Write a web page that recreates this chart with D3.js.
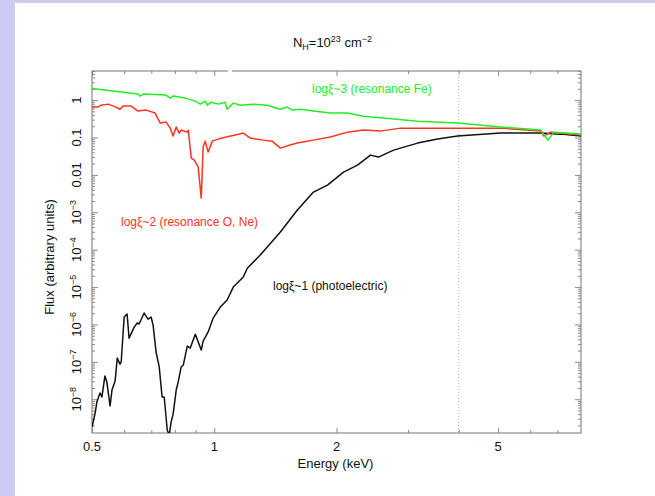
<!DOCTYPE html>
<html><head><meta charset="utf-8">
<script src="https://cdn.jsdelivr.net/npm/d3@7"></script>
<style>
body{margin:0;background:#fff;}
svg{display:block;font-family:"Liberation Sans",Arial,Helvetica,sans-serif;}
</style></head>
<body>
<script>
// ---- data ----
const xDomain = [0.5, 8.0];
const yDomain = [1.25e-9, 6];
const xTickMajor = [0.5, 1, 2, 5];
const xTickMinor = [0.6, 0.7, 0.8, 0.9, 3, 4, 6, 7];
const yTickValues = [1, 0.1, 0.01, 1e-3, 1e-4, 1e-5, 1e-6, 1e-7, 1e-8];
const yTickLabels = ["1", "0.1", "0.01", "10|−3", "10|−4", "10|−5", "10|−6", "10|−7", "10|−8"];
const markerEnergy = 4;

const greenE = [0.500,0.590,0.649,0.656,0.670,0.761,0.779,0.792,0.848,0.898,0.924,0.950,0.961,0.983,1.023,1.064,1.076,1.114,1.159,1.248,1.351,1.455,1.514,1.557,1.631,1.755,1.932,2.128,2.331,2.61,3.168,3.974,5.07,6.37,6.63,6.86,8.0];
const greenF = [2.03,1.64,1.45,1.28,1.45,1.36,1.13,1.28,1.13,0.94,0.78,0.94,0.73,0.88,0.78,0.88,0.57,0.83,0.73,0.78,0.73,0.57,0.65,0.54,0.57,0.51,0.45,0.45,0.37,0.33,0.27,0.243,0.19,0.158,0.085,0.139,0.123];

const redE = [0.500,0.517,0.526,0.548,0.573,0.586,0.596,0.624,0.649,0.680,0.715,0.736,0.761,0.779,0.792,0.806,0.820,0.829,0.858,0.863,0.878,0.893,0.913,0.929,0.939,0.950,0.966,0.989,1.023,1.070,1.12,1.179,1.227,1.321,1.39,1.455,1.53,1.602,1.68,1.755,1.932,2.128,2.331,2.567,2.876,3.82,5.07,6.37,6.48,6.74,8.0];
const redF = [0.65,0.65,0.73,0.78,0.65,0.57,0.69,0.69,0.51,0.54,0.45,0.243,0.258,0.178,0.109,0.19,0.131,0.158,0.139,0.158,0.0281,0.0249,0.0162,0.0024,0.0554,0.080,0.0407,0.080,0.0906,0.1025,0.115,0.131,0.0964,0.085,0.079,0.052,0.062,0.0708,0.078,0.085,0.1025,0.139,0.158,0.148,0.178,0.178,0.178,0.148,0.109,0.139,0.116];

const blackE = [0.500,0.509,0.514,0.523,0.529,0.538,0.544,0.554,0.560,0.570,0.577,0.586,0.590,0.600,0.610,0.617,0.635,0.646,0.653,0.672,0.687,0.699,0.707,0.719,0.732,0.744,0.753,0.766,0.775,0.783,0.792,0.806,0.815,0.829,0.839,0.858,0.873,0.898,0.929,0.939,0.966,0.994,1.035,1.076,1.114,1.179,1.206,1.298,1.455,1.602,1.755,1.900,2.081,2.253,2.425,2.538,2.764,3.168,3.548,3.974,5.07,6.37,7.13,8.0];
const blackF = [1.81e-9,4.27e-9,8.4e-9,1.47e-8,1.15e-8,4.2e-8,2.88e-8,6.6e-9,1.76e-8,3.07e-8,1.26e-7,8.7e-8,9.9e-8,1.58e-6,1.90e-6,4.3e-7,8.5e-7,1.09e-6,1.03e-6,2.02e-6,1.39e-6,1.58e-6,9.6e-7,1.83e-7,7.3e-8,1.15e-8,1.15e-8,1.5e-9,1.1e-9,2.45e-9,4.0e-9,1.76e-8,2.88e-8,7.3e-8,8.2e-8,2.64e-7,2.34e-7,5.5e-7,2.07e-7,3.6e-7,6.3e-7,1.48e-6,2.92e-6,4.5e-6,1.0e-5,1.85e-5,3.2e-5,7.2e-5,2.96e-4,1.15e-3,3.47e-3,5.3e-3,0.0119,0.0183,0.0338,0.0299,0.046,0.0708,0.0906,0.109,0.131,0.131,0.123,0.109];

const seriesNames = ["logξ~3 (resonance Fe)", "logξ~2 (resonance O, Ne)", "logξ~1 (photoelectric)"];
const seriesColors = ["#22ee22", "#ff3322", "#111111"];

// ---- layout ----
const W = 655, H = 496;
const m = {left: 92, top: 71, right: 581, bottom: 433};

const svg = d3.select("body").append("svg").attr("width", W).attr("height", H);
svg.append("rect").attr("width", W).attr("height", H).attr("fill", "#fff");
svg.append("rect").attr("x", 0).attr("y", 0).attr("width", W).attr("height", 3).attr("fill", "#ccccf2");
svg.append("rect").attr("x", 0).attr("y", 0).attr("width", 15).attr("height", H).attr("fill", "#ccccf2");

const x = d3.scaleLog().domain(xDomain).range([m.left, m.right]);
const y = d3.scaleLog().domain(yDomain).range([m.bottom, m.top]);

svg.append("clipPath").attr("id", "clip").append("rect")
  .attr("x", m.left).attr("y", m.top).attr("width", m.right - m.left).attr("height", m.bottom - m.top);

const axisColor = "#8a8a8a";

// dotted line at 4 keV
svg.append("line").attr("x1", x(markerEnergy)).attr("x2", x(markerEnergy))
  .attr("y1", m.top).attr("y2", m.bottom)
  .attr("stroke", "#aaa").attr("stroke-width", 1).attr("stroke-dasharray", "1,2");

// axes (ticks inward)
function styleAxis(g){
  g.select(".domain").remove();
  g.selectAll("line").attr("stroke", axisColor);
  g.selectAll("text").remove();
}
const xMajorLen = 5, xMinorLen = 3;
svg.append("g").attr("transform", `translate(0,${m.bottom})`)
  .call(d3.axisTop(x).tickValues(xTickMajor).tickSize(xMajorLen)).call(styleAxis);
svg.append("g").attr("transform", `translate(0,${m.bottom})`)
  .call(d3.axisTop(x).tickValues(xTickMinor).tickSize(xMinorLen)).call(styleAxis);
svg.append("g").attr("transform", `translate(0,${m.top})`)
  .call(d3.axisBottom(x).tickValues(xTickMajor).tickSize(xMajorLen)).call(styleAxis);
svg.append("g").attr("transform", `translate(0,${m.top})`)
  .call(d3.axisBottom(x).tickValues(xTickMinor).tickSize(xMinorLen)).call(styleAxis);

// y minor ticks 2..9 per decade
const yMinor = [];
for (let e = -9; e <= 0; e++) for (let k = 2; k <= 9; k++) {
  const v = k * Math.pow(10, e);
  if (v >= yDomain[0] && v <= yDomain[1]) yMinor.push(v);
}
const yMajorLen = 6, yMinorLen = 3;
svg.append("g").attr("transform", `translate(${m.left},0)`)
  .call(d3.axisRight(y).tickValues(yTickValues).tickSize(yMajorLen)).call(styleAxis);
svg.append("g").attr("transform", `translate(${m.left},0)`)
  .call(d3.axisRight(y).tickValues(yMinor).tickSize(yMinorLen)).call(styleAxis);
svg.append("g").attr("transform", `translate(${m.right},0)`)
  .call(d3.axisLeft(y).tickValues(yTickValues).tickSize(yMajorLen)).call(styleAxis);
svg.append("g").attr("transform", `translate(${m.right},0)`)
  .call(d3.axisLeft(y).tickValues(yMinor).tickSize(yMinorLen)).call(styleAxis);

// frame
svg.append("rect").attr("x", m.left).attr("y", m.top)
  .attr("width", m.right - m.left).attr("height", m.bottom - m.top)
  .attr("fill", "none").attr("stroke", axisColor).attr("stroke-width", 1.2);
// small gap in the top frame, as in the original
svg.append("rect").attr("x", x(1.08)).attr("y", m.top - 2)
  .attr("width", x(1.105) - x(1.08)).attr("height", 4).attr("fill", "#fff");

// x tick labels
svg.append("g").selectAll("text").data(xTickMajor).join("text")
  .attr("x", d => x(d)).attr("y", 451).attr("text-anchor", "middle")
  .attr("font-size", 13).attr("fill", "#111").text(d => d);

// y tick labels (rotated)
yTickValues.forEach((v, i) => {
  const parts = yTickLabels[i].split("|");
  const t = svg.append("text")
    .attr("transform", `translate(81,${y(v)}) rotate(-90)`)
    .attr("text-anchor", "middle").attr("font-size", 13).attr("fill", "#111");
  t.append("tspan").text(parts[0]);
  if (parts[1]) t.append("tspan").attr("dy", -5).attr("font-size", 9).text(parts[1]);
});

// axis titles
svg.append("text").attr("x", (m.left + m.right) / 2 - 1).attr("y", 468)
  .attr("text-anchor", "middle").attr("font-size", 13).attr("fill", "#111").text("Energy (keV)");
svg.append("text").attr("transform", `translate(54,257) rotate(-90)`)
  .attr("text-anchor", "middle").attr("font-size", 13).attr("fill", "#111").text("Flux (arbitrary units)");

// title
const title = svg.append("text").attr("x", (m.left + m.right) / 2 - 4).attr("y", 47)
  .attr("text-anchor", "middle").attr("font-size", 13).attr("fill", "#111");
title.append("tspan").text("N");
title.append("tspan").attr("dy", 3).attr("font-size", 9).text("H");
title.append("tspan").attr("dy", -3).text("=10");
title.append("tspan").attr("dy", -5).attr("font-size", 9).text("23");
title.append("tspan").attr("dy", 5).text(" cm");
title.append("tspan").attr("dy", -5).attr("font-size", 9).text("−2");

// curves
const line = d3.line().x(d => x(d[0])).y(d => y(d[1]));
const series = [
  {E: blackE, F: blackF, c: seriesColors[2]},
  {E: redE, F: redF, c: seriesColors[1]},
  {E: greenE, F: greenF, c: seriesColors[0]}
];
const gLines = svg.append("g").attr("clip-path", "url(#clip)");
series.forEach(s => {
  gLines.append("path").datum(d3.zip(s.E, s.F)).attr("d", line)
    .attr("fill", "none").attr("stroke", s.c).attr("stroke-width", 1.5)
    .attr("stroke-linejoin", "round");
});

// series labels
const labelPos = [{x: 312, y: 93}, {x: 121, y: 226}, {x: 273, y: 290}];
seriesNames.forEach((n, i) => {
  svg.append("text").attr("x", labelPos[i].x).attr("y", labelPos[i].y)
    .attr("font-size", 12).attr("fill", seriesColors[i]).text(n);
});
</script>
</body></html>
